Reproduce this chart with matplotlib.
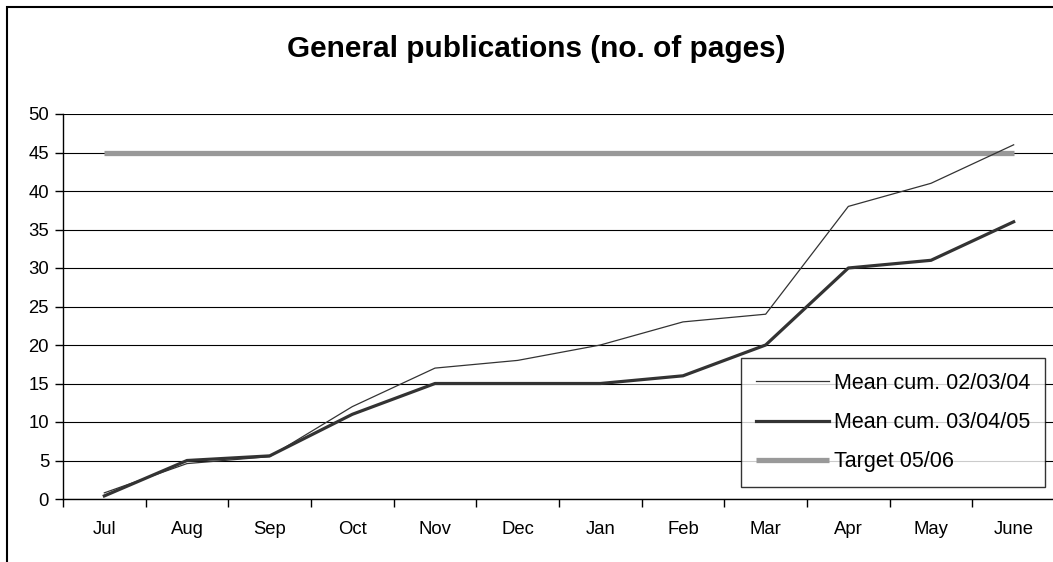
import matplotlib
matplotlib.use("Agg")
import matplotlib.pyplot as plt
from matplotlib.patches import Rectangle

plt.rcParams['font.family'] = ['Liberation Sans', 'DejaVu Sans']

months = ["Jul", "Aug", "Sep", "Oct", "Nov", "Dec", "Jan", "Feb", "Mar", "Apr", "May", "June"]
mean_020304 = [0.8, 4.6, 5.5, 12, 17, 18, 20, 23, 24, 38, 41, 46]
mean_030405 = [0.4, 5.0, 5.6, 11, 15, 15, 15, 16, 20, 30, 31, 36]
target_0506 = [45] * 12
y_ticks = [0, 5, 10, 15, 20, 25, 30, 35, 40, 45, 50]

W, H = 1053, 562
fig = plt.figure(figsize=(W / 100, H / 100), dpi=100)
left, right, top, bottom = 63, 1055, 114, 499
ax = fig.add_axes([left / W, (H - bottom) / H, (right - left) / W, (bottom - top) / H])

x = list(range(len(months)))
ax.plot(x, target_0506, color="#999999", lw=3.8, solid_capstyle="butt", zorder=2, label="Target 05/06")
ax.plot(x, mean_020304, color="#333333", lw=0.9, zorder=3, label="Mean cum. 02/03/04")
ax.plot(x, mean_030405, color="#333333", lw=2.3, zorder=4, label="Mean cum. 03/04/05")

ax.set_xlim(-0.5, len(months) - 0.5)
ax.set_ylim(0, 50)
ax.set_yticks(y_ticks)
ax.set_yticklabels([str(v) for v in y_ticks], fontsize=13.3)
ax.yaxis.grid(True, color="black", lw=0.8)
ax.set_axisbelow(True)

ax.set_xticks(x)
ax.set_xticklabels(months, fontsize=13.3)
ax.tick_params(axis="x", which="major", length=0, pad=16)
ax.set_xticks([i - 0.5 for i in range(len(months) + 1)], minor=True)
ax.tick_params(axis="x", which="minor", length=6, width=1, direction="out")
ax.tick_params(axis="y", length=6, width=1, direction="out", pad=4)

for s in ["top", "right"]:
    ax.spines[s].set_visible(False)
for s in ["left", "bottom"]:
    ax.spines[s].set_linewidth(1.0)
    ax.spines[s].set_color("black")

fig.text(536 / W, (H - 49) / H, "General publications (no. of pages)", ha="center", va="center",
         fontsize=21.4, fontweight="bold")

handles, labels = ax.get_legend_handles_labels()
order = [1, 2, 0]
leg = fig.legend([handles[i] for i in order], [labels[i] for i in order],
                 loc="lower left", bbox_to_anchor=(741 / W, (H - 487) / H),
                 bbox_transform=fig.transFigure, fontsize=15.5, frameon=True,
                 fancybox=False, edgecolor="black", handlelength=3.4, handletextpad=0.25,
                 labelspacing=0.85, borderpad=0.68, borderaxespad=0)
leg.get_frame().set_linewidth(1.0)

fig.add_artist(Rectangle((7 / W, -0.1), 2, (H - 7) / H + 0.1, transform=fig.transFigure,
                         fill=False, edgecolor="black", lw=1.5, clip_on=False))

fig.savefig("out.png", dpi=100)
